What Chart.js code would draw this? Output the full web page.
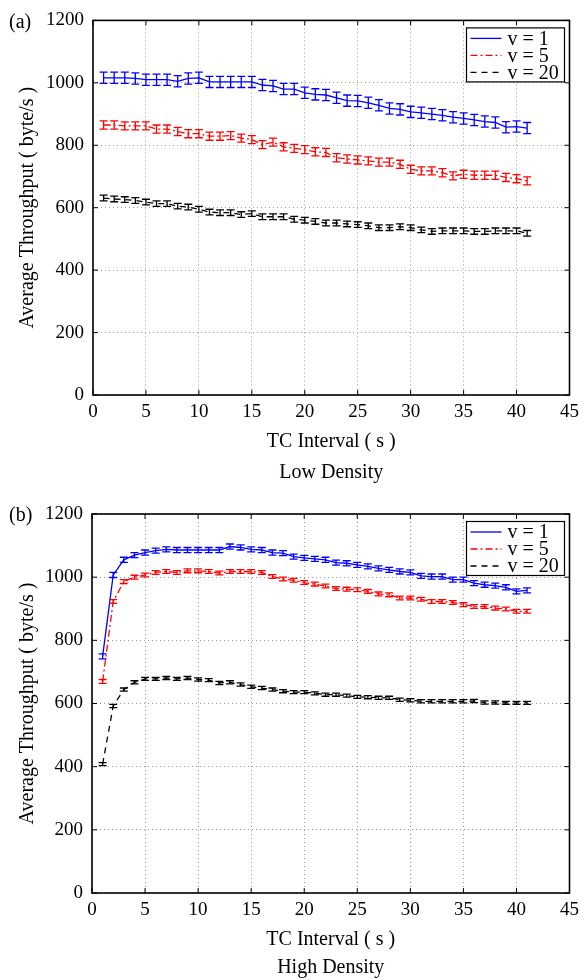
<!DOCTYPE html>
<html>
<head>
<meta charset="utf-8">
<script src="https://cdn.jsdelivr.net/npm/chart.js@4.4.0/dist/chart.umd.min.js"></script>
<style>
  body { margin: 0; background: #fff; }
  canvas { display: block; }
</style>
</head>
<body>
<canvas id="lowChart" width="585" height="490"></canvas>
<canvas id="highChart" width="585" height="490"></canvas>
<script>
// TC interval (s)
const intervals = [1, 2, 3, 4, 5, 6, 7, 8, 9, 10, 11, 12, 13, 14, 15, 16, 17, 18, 19, 20,
  21, 22, 23, 24, 25, 26, 27, 28, 29, 30, 31, 32, 33, 34, 35, 36, 37, 38, 39, 40, 41];

// (a) Low Density
const lowV1 = [1016, 1016, 1016, 1014, 1010, 1010, 1010, 1005, 1014, 1016, 1003, 1003, 1003, 1003, 1003,
  993, 990, 980, 980, 968, 963, 961, 952, 943, 942, 936, 928, 918, 915, 907, 904, 900, 896, 890, 886,
  881, 876, 873, 858, 860, 855];
const lowV5 = [865, 865, 862, 862, 862, 852, 852, 844, 837, 837, 829, 829, 831, 823, 818, 802, 810, 795,
  790, 786, 779, 777, 760, 756, 753, 750, 746, 746, 739, 723, 718, 718, 712, 702, 707, 704, 704, 704,
  697, 693, 686];
const lowV20 = [631, 628, 626, 623, 618, 613, 613, 605, 602, 595, 586, 584, 584, 578, 581, 571, 571, 571,
  563, 560, 556, 551, 551, 548, 546, 542, 536, 536, 539, 536, 529, 524, 526, 526, 526, 524, 524, 526,
  526, 526, 518];

// (b) High Density
const highV1 = [749, 1007, 1055, 1070, 1078, 1084, 1088, 1086, 1086, 1086, 1086, 1086, 1097, 1094, 1088,
  1086, 1078, 1076, 1065, 1061, 1058, 1055, 1046, 1044, 1039, 1034, 1028, 1023, 1018, 1015, 1004, 1002,
  1002, 992, 992, 981, 976, 973, 968, 955, 958];
const highV5 = [670, 923, 986, 1000, 1007, 1015, 1018, 1015, 1020, 1020, 1018, 1013, 1018, 1018, 1018,
  1015, 1002, 994, 990, 983, 978, 972, 964, 962, 960, 955, 947, 944, 934, 934, 930, 923, 923, 920, 913,
  907, 907, 902, 899, 892, 892];
const highV20 = [408, 592, 644, 667, 678, 678, 681, 678, 681, 676, 674, 665, 667, 660, 653, 649, 644, 639,
  636, 636, 632, 628, 628, 625, 621, 620, 618, 618, 612, 610, 607, 607, 607, 607, 607, 608, 603, 603,
  602, 602, 602];

// half-height of the error bars, one per series
const errLow = [18, 13, 9];
const errHigh = [8, 6, 5];

const seriesLabels = ["v = 1", "v = 5", "v = 20"];
const seriesColors = ["#0000ff", "#ff0000", "#000000"];
const seriesDash = [[], [7, 3, 2, 3], [6, 5]];

const SERIF = "'Liberation Serif', 'Times New Roman', serif";

// error bars, frame, inner ticks, legend and panel tag
const decorations = {
  id: "decorations",
  afterDatasetsDraw(chart) {
    const { ctx, scales: { x, y } } = chart;
    chart.data.datasets.forEach((ds) => {
      ctx.save();
      ctx.strokeStyle = ds.borderColor;
      ctx.lineWidth = 1.3;
      ds.data.forEach((p) => {
        const px = x.getPixelForValue(p.x);
        const lo = y.getPixelForValue(p.y - ds.err);
        const hi = y.getPixelForValue(p.y + ds.err);
        ctx.beginPath();
        ctx.moveTo(px, lo); ctx.lineTo(px, hi);
        ctx.moveTo(px - 4, lo); ctx.lineTo(px + 4, lo);
        ctx.moveTo(px - 4, hi); ctx.lineTo(px + 4, hi);
        ctx.stroke();
      });
      ctx.restore();
    });
  },
  afterDraw(chart, args, opts) {
    const { ctx, chartArea: a, scales: { x, y } } = chart;
    ctx.save();
    // inner ticks
    ctx.strokeStyle = "#000";
    ctx.lineWidth = 1;
    ctx.beginPath();
    x.ticks.forEach((t) => {
      const px = x.getPixelForValue(t.value);
      ctx.moveTo(px, a.bottom); ctx.lineTo(px, a.bottom - 5);
      ctx.moveTo(px, a.top); ctx.lineTo(px, a.top + 5);
    });
    y.ticks.forEach((t) => {
      const py = y.getPixelForValue(t.value);
      ctx.moveTo(a.left, py); ctx.lineTo(a.left + 5, py);
      ctx.moveTo(a.right, py); ctx.lineTo(a.right - 5, py);
    });
    ctx.stroke();
    // frame
    ctx.lineWidth = 1.6;
    ctx.strokeRect(a.left, a.top, a.right - a.left, a.bottom - a.top);

    // legend box
    const bw = 98, bh = 54;
    const bx = a.right - 5 - bw, by = a.top + 7.5;
    ctx.fillStyle = "#fff";
    ctx.fillRect(bx, by, bw, bh);
    ctx.lineWidth = 1.2;
    ctx.strokeRect(bx, by, bw, bh);
    ctx.font = "20px " + SERIF;
    ctx.textBaseline = "middle";
    ctx.textAlign = "left";
    chart.data.datasets.forEach((ds, i) => {
      const ry = by + 10.5 + i * 17;
      ctx.strokeStyle = ds.borderColor;
      ctx.lineWidth = 1.3;
      ctx.setLineDash(ds.borderDash);
      ctx.beginPath();
      ctx.moveTo(bx + 4, ry); ctx.lineTo(bx + 35, ry);
      ctx.stroke();
      ctx.setLineDash([]);
      ctx.fillStyle = "#000";
      ctx.fillText(ds.label, bx + 41, ry + 1);
    });

    // panel tag
    ctx.font = "20px " + SERIF;
    ctx.fillStyle = "#000";
    ctx.fillText(opts.tag, 9, a.top + 2);
    ctx.restore();
  }
};

function makeChart(id, values, errs, tag, subtitle, geo) {
  const datasets = values.map((vals, i) => ({
    label: seriesLabels[i],
    data: intervals.map((t, j) => ({ x: t, y: vals[j] })),
    err: errs[i],
    borderColor: seriesColors[i],
    borderDash: seriesDash[i],
    borderWidth: 1.3,
    pointRadius: 0,
    tension: 0,
    fill: false
  }));

  return new Chart(document.getElementById(id), {
    type: "line",
    data: { datasets },
    plugins: [decorations],
    options: {
      responsive: false,
      animation: false,
      devicePixelRatio: 1,
      layout: { padding: { left: 0, right: 12, top: geo.top, bottom: 0 } },
      plugins: {
        legend: { display: false },
        tooltip: { enabled: false },
        decorations: { tag }
      },
      scales: {
        x: {
          type: "linear",
          min: 0,
          max: 45,
          afterFit: (s) => { s.height = geo.xHeight; },
          ticks: { stepSize: 5, padding: 6, color: "#000", maxRotation: 0,
            callback: (v) => String(v),
            font: { family: SERIF, size: 19 } },
          grid: { color: "#9a9a9a", lineWidth: 1, drawTicks: false },
          border: { display: false, dash: [1, 3] },
          title: {
            display: true,
            text: ["TC Interval ( s )", subtitle],
            color: "#000",
            font: { family: SERIF, size: 20, lineHeight: geo.titleLH },
            padding: { top: 0, bottom: geo.titlePad }
          }
        },
        y: {
          min: 0,
          max: 1200,
          afterFit: (s) => { s.width = geo.yWidth; },
          ticks: { stepSize: 200, padding: 9, color: "#000",
            callback: (v) => String(v),
            font: { family: SERIF, size: 19 } },
          grid: { color: "#9a9a9a", lineWidth: 1, drawTicks: false },
          border: { display: false, dash: [1, 3] },
          title: {
            display: true,
            text: "Average Throughput ( byte/s )",
            color: "#000",
            font: { family: SERIF, size: 20, lineHeight: 1.2 },
            padding: { top: 16, bottom: 0 }
          }
        }
      }
    }
  });
}

makeChart("lowChart", [lowV1, lowV5, lowV20], errLow, "(a)", "Low Density",
  { top: 16, xHeight: 95, yWidth: 93, titleLH: 1.55, titlePad: 1.5 });
makeChart("highChart", [highV1, highV5, highV20], errHigh, "(b)", "High Density",
  { top: 24, xHeight: 87, yWidth: 92, titleLH: 1.4, titlePad: -2 });
</script>
</body>
</html>
